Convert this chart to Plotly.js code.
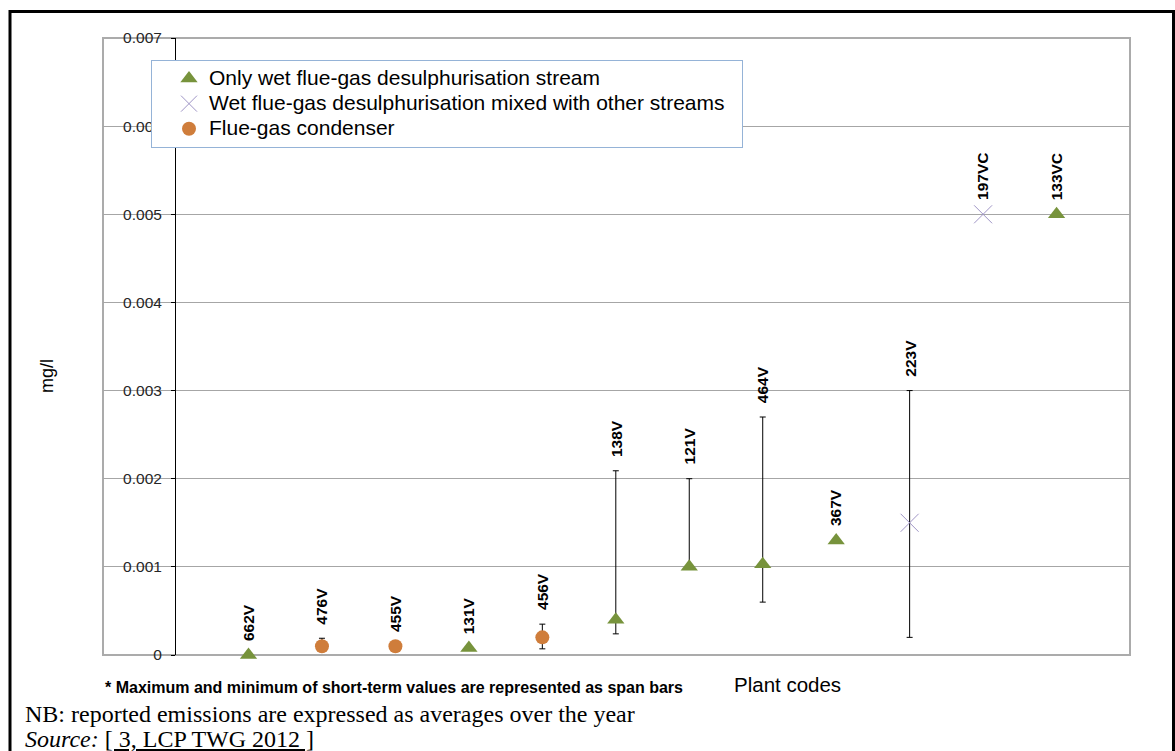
<!DOCTYPE html>
<html>
<head>
<meta charset="utf-8">
<script src="https://cdn.plot.ly/plotly-3.0.1.min.js"></script>
<style>
html,body{margin:0;padding:0;background:#fff;}
#chart{width:1175px;height:751px;}
</style>
</head>
<body>
<div id="chart"></div>
<script>
// ---- data ----
var plantCodes = ['662V','476V','455V','131V','456V','138V','121V','464V','367V','223V','197VC','133VC'];
var streamType = ['wet','cond','cond','wet','cond','wet','wet','wet','wet','mixed','mixed','wet'];
var avgValues  = [0, 0.0001, 0.0001, 0.00008, 0.0002, 0.0004, 0.001, 0.00103, 0.0013, 0.0015, 0.005, 0.005];
var maxValues  = [null, 0.00019, null, null, 0.00035, 0.00209, 0.002, 0.0027, null, 0.003, null, null];
var minValues  = [null, 0.0001, null, null, 0.00007, 0.00024, 0.001, 0.0006, null, 0.0002, null, null];
var seriesKeys  = ['wet','mixed','cond'];
var seriesNames = ['Only wet flue-gas desulphurisation stream','Wet flue-gas desulphurisation mixed with other streams','Flue-gas condenser'];
var yTickValues = [0,0.001,0.002,0.003,0.004,0.005,0.006,0.007];
var yTickLabels = ['0','0.001','0.002','0.003','0.004','0.005','0.006','0.007'];

var FONT = 'Arial, "Liberation Sans", sans-serif';
var SERIF = '"Times New Roman", "Liberation Serif", serif';
var styles = {
  wet:   {symbol:'triangle-up', size:15, color:'#77933C', line:{width:0}},
  mixed: {symbol:'x-thin-open', size:18, color:'#9F95C6', line:{width:1, color:'#9F95C6'}},
  cond:  {symbol:'circle', size:14, color:'#CF7D3B', line:{width:0}}
};

var traces = [];
// span bars (drawn first, under markers)
var ex=[], ey=[], ep=[], em=[];
plantCodes.forEach(function(c,i){
  if(maxValues[i]!==null){
    ex.push(i); ey.push(avgValues[i]);
    ep.push(maxValues[i]-avgValues[i]);
    em.push(avgValues[i]-minValues[i]);
  }
});
traces.push({x:ex,y:ey,type:'scatter',mode:'markers',marker:{size:1,opacity:0},
  showlegend:false,hoverinfo:'skip',cliponaxis:false,
  error_y:{type:'data',symmetric:false,array:ep,arrayminus:em,color:'#000000',thickness:1,width:3}});

seriesKeys.forEach(function(k,si){
  var xs=[],ys=[];
  plantCodes.forEach(function(c,i){ if(streamType[i]===k){xs.push(i);ys.push(avgValues[i]);} });
  traces.push({x:xs,y:ys,type:'scatter',mode:'markers',
    name:'<span style="font-size:21px">'+seriesNames[si]+'&nbsp;&nbsp;</span>',
    marker:styles[k],cliponaxis:false,hoverinfo:'skip'});
});

var annotations = plantCodes.map(function(c,i){
  var top = maxValues[i]!==null ? Math.max(maxValues[i],avgValues[i]) : avgValues[i];
  return {x:i,y:top,xref:'x',yref:'y',text:'<b>'+c+'</b>',textangle:-90,showarrow:false,
    yanchor:'bottom',xanchor:'center',yshift:12,font:{family:FONT,size:15.5,color:'#000'}};
});
var W=1027, H=617, L=103, T=38;
function px(x){return (x-L)/W;}
function py(y){return (T+H-y)/H;}
annotations.push({xref:'paper',yref:'paper',x:px(47),y:py(376),text:'mg/l',textangle:-90,showarrow:false,
  xanchor:'center',yanchor:'middle',font:{family:FONT,size:18,color:'#000'}});
annotations.push({xref:'paper',yref:'paper',x:px(732),y:py(684),text:'Plant codes',showarrow:false,
  xanchor:'left',yanchor:'middle',font:{family:FONT,size:20.5,color:'#000'}});
annotations.push({xref:'paper',yref:'paper',x:px(103),y:py(687),text:'<b>* Maximum and minimum of short-term values are represented as span bars</b>',showarrow:false,
  xanchor:'left',yanchor:'middle',font:{family:FONT,size:16,color:'#000'}});
annotations.push({xref:'paper',yref:'paper',x:px(23),y:py(714),text:'NB: reported emissions are expressed as averages over the year',showarrow:false,
  xanchor:'left',yanchor:'middle',font:{family:SERIF,size:24,color:'#000'}});
annotations.push({xref:'paper',yref:'paper',x:px(23),y:py(739),text:'<i>Source:</i> <span style="text-decoration:underline">[ 3, LCP TWG 2012 ]</span>',showarrow:false,
  xanchor:'left',yanchor:'middle',font:{family:SERIF,size:24,color:'#000'}});

var layout = {
  width:1175,height:751,
  margin:{l:L,r:1175-L-W,t:T,b:751-T-H,pad:0},
  paper_bgcolor:'#ffffff',plot_bgcolor:'#ffffff',
  showlegend:true,
  font:{family:FONT,color:'#000'},
  xaxis:{range:[(L-248.5)/73.46,(L+W-248.5)/73.46],showgrid:false,zeroline:false,showline:false,
    showticklabels:false,ticks:'',fixedrange:true},
  yaxis:{range:[0,0.007],anchor:'free',position:(175-L)/W,tickvals:yTickValues,ticktext:yTickLabels,
    showgrid:true,gridcolor:'#A6A6A6',gridwidth:1,zeroline:false,showline:true,linecolor:'#000',linewidth:1,
    ticks:'outside',ticklen:4,tickcolor:'#000',ticklabelstandoff:6,
    tickfont:{family:FONT,size:15.5,color:'#262626'},fixedrange:true},
  legend:{x:px(151),y:py(60),xanchor:'left',yanchor:'top',bgcolor:'#ffffff',bordercolor:'#95B3D7',borderwidth:1,
    font:{family:FONT,size:17,color:'#000'},traceorder:'normal',indentation:17,tracegroupgap:0},
  shapes:[
    {type:'rect',xref:'paper',yref:'paper',x0:0,x1:1,y0:0,y1:1,line:{color:'#ABABAB',width:2},layer:'below'},
    {type:'rect',xref:'paper',yref:'paper',x0:px(10),x1:px(1173.5),y0:py(780),y1:py(11.5),line:{color:'#000',width:3}}
  ],
  annotations:annotations
};
Plotly.newPlot('chart',traces,layout,{displayModeBar:false,staticPlot:true});
</script>
</body>
</html>
